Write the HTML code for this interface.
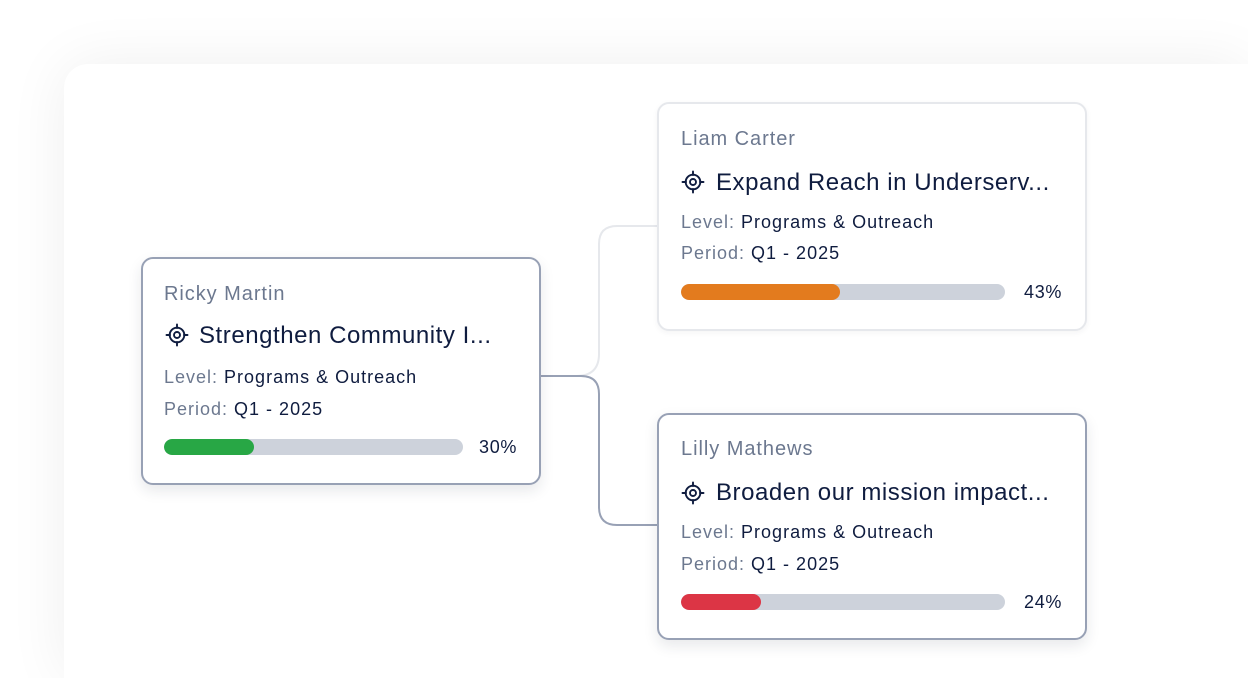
<!DOCTYPE html>
<html>
<head>
<meta charset="utf-8">
<style>
  html, body { margin:0; padding:0; width:1248px; height:678px; overflow:hidden; background:#ffffff; }
  #wrap { position:relative; width:1248px; height:678px; overflow:hidden; background:#ffffff;
          font-family:"Liberation Sans", Arial, sans-serif; }
  .panel { position:absolute; left:64px; top:64px; width:1184px; height:614px; background:#ffffff;
           border-radius:24px 0 0 0; box-shadow:0 0 60px rgba(0,0,0,0.065); }
  svg.lines { position:absolute; left:0; top:0; }
  .card { position:absolute; box-sizing:border-box; background:#fff; border-radius:12px; }
  .dark { border:2px solid #98a1b5; box-shadow:0 6px 14px rgba(30,40,60,0.10); }
  .light { border:2px solid #e6e8ec; box-shadow:0 2px 6px rgba(30,40,60,0.05); }
  .t { position:absolute; white-space:nowrap; line-height:1; }
  .name { font-size:20px; color:#6c788f; letter-spacing:0.95px; }
  .title { font-size:24px; color:#0f1c3f; letter-spacing:0.55px; }
  .meta { font-size:18px; color:#0f1c3f; letter-spacing:1px; }
  .meta span { color:#6c788f; }
  .pct { font-size:18px; color:#0f1c3f; letter-spacing:0.7px; }
  .bar { position:absolute; height:16px; border-radius:8px; background:#cdd2db; overflow:hidden; }
  .fill { position:absolute; left:0; top:0; bottom:0; border-radius:8px; }
  .ico { position:absolute; }
</style>
</head>
<body>
<div id="wrap">
<div class="panel"></div>

<svg class="lines" width="1248" height="678" viewBox="0 0 1248 678">
  <path d="M576 376 Q599 376 599 354 V244 Q599 226 617 226 H660" fill="none" stroke="#e6e8ec" stroke-width="2"/>
  <path d="M540 376 H581 Q599 376 599 394 V507 Q599 525 617 525 H660" fill="none" stroke="#98a1b5" stroke-width="2"/>
</svg>

<!-- Left card -->
<div class="card dark" style="left:141px; top:257px; width:400px; height:228px;"></div>
<div class="t name" style="left:164px; top:284px;">Ricky Martin</div>
<svg class="ico" style="left:165px; top:323px;" width="24" height="24" viewBox="0 0 24 24">
  <circle cx="12" cy="12" r="7.3" fill="none" stroke="#0f1c3f" stroke-width="1.9"/>
  <circle cx="12" cy="12" r="3" fill="none" stroke="#0f1c3f" stroke-width="1.9"/>
  <path d="M12 1.5V5 M12 19V22.5 M1.5 12H5 M19 12H22.5" stroke="#0f1c3f" stroke-width="1.9" stroke-linecap="round"/>
</svg>
<div class="t title" style="left:199px; top:324px;">Strengthen Community I...</div>
<div class="t meta" style="left:164px; top:368px;"><span>Level:</span> Programs &amp; Outreach</div>
<div class="t meta" style="left:164px; top:400px;"><span>Period:</span> Q1 - 2025</div>
<div class="bar" style="left:164px; top:439px; width:299px;"><div class="fill" style="width:90px; background:#28a745;"></div></div>
<div class="t pct" style="left:479px; top:438px;">30%</div>

<!-- Top right card -->
<div class="card light" style="left:657px; top:102px; width:430px; height:229px;"></div>
<div class="t name" style="left:681px; top:129px;">Liam Carter</div>
<svg class="ico" style="left:681px; top:170px;" width="24" height="24" viewBox="0 0 24 24">
  <circle cx="12" cy="12" r="7.3" fill="none" stroke="#0f1c3f" stroke-width="1.9"/>
  <circle cx="12" cy="12" r="3" fill="none" stroke="#0f1c3f" stroke-width="1.9"/>
  <path d="M12 1.5V5 M12 19V22.5 M1.5 12H5 M19 12H22.5" stroke="#0f1c3f" stroke-width="1.9" stroke-linecap="round"/>
</svg>
<div class="t title" style="left:716px; top:171px;">Expand Reach in Underserv...</div>
<div class="t meta" style="left:681px; top:213px;"><span>Level:</span> Programs &amp; Outreach</div>
<div class="t meta" style="left:681px; top:244px;"><span>Period:</span> Q1 - 2025</div>
<div class="bar" style="left:681px; top:284px; width:324px;"><div class="fill" style="width:159px; background:#e37b1e;"></div></div>
<div class="t pct" style="left:1024px; top:283px;">43%</div>

<!-- Bottom right card -->
<div class="card dark" style="left:657px; top:413px; width:430px; height:227px;"></div>
<div class="t name" style="left:681px; top:439px;">Lilly Mathews</div>
<svg class="ico" style="left:681px; top:481px;" width="24" height="24" viewBox="0 0 24 24">
  <circle cx="12" cy="12" r="7.3" fill="none" stroke="#0f1c3f" stroke-width="1.9"/>
  <circle cx="12" cy="12" r="3" fill="none" stroke="#0f1c3f" stroke-width="1.9"/>
  <path d="M12 1.5V5 M12 19V22.5 M1.5 12H5 M19 12H22.5" stroke="#0f1c3f" stroke-width="1.9" stroke-linecap="round"/>
</svg>
<div class="t title" style="left:716px; top:481px;">Broaden our mission impact...</div>
<div class="t meta" style="left:681px; top:523px;"><span>Level:</span> Programs &amp; Outreach</div>
<div class="t meta" style="left:681px; top:555px;"><span>Period:</span> Q1 - 2025</div>
<div class="bar" style="left:681px; top:594px; width:324px;"><div class="fill" style="width:80px; background:#dc3545;"></div></div>
<div class="t pct" style="left:1024px; top:593px;">24%</div>
</div>
</body>
</html>
